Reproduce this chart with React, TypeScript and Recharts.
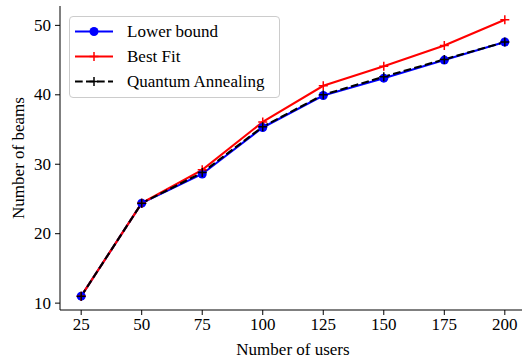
import { Legend, Line, LineChart, XAxis, YAxis } from "recharts";

const FONT = '"Liberation Serif", "Times New Roman", serif';
const FONT_SIZE = 17;

const USERS = [25, 50, 75, 100, 125, 150, 175, 200];
const LOWER_BOUND = [11, 24.4, 28.6, 35.3, 39.9, 42.4, 45.0, 47.6];
const BEST_FIT = [11, 24.4, 29.2, 36.1, 41.3, 44.1, 47.1, 50.8];
const QUANTUM = [11, 24.4, 28.8, 35.4, 40.0, 42.6, 45.1, 47.6];
const X_TICKS = [25, 50, 75, 100, 125, 150, 175, 200];
const Y_TICKS = [10, 20, 30, 40, 50];

const data = USERS.map((u, i) => ({
  users: u,
  lower: LOWER_BOUND[i],
  best: BEST_FIT[i],
  quantum: QUANTUM[i],
}));

// matplotlib-style 5% margins around the data
function padded(values: number[]): [number, number] {
  const lo = Math.min(...values);
  const hi = Math.max(...values);
  const m = (hi - lo) * 0.05;
  return [lo - m, hi + m];
}
const X_DOMAIN = padded(USERS);
const Y_DOMAIN = padded([...LOWER_BOUND, ...BEST_FIT, ...QUANTUM]);

const BLUE = "#0000ff";
const RED = "#ff0000";
const BLACK = "#000000";
const DASH = "7.7 3.3";

function XTick(props: any) {
  const { x, y, payload } = props;
  return (
    <text x={x} y={y + 13} textAnchor="middle" fill={BLACK} fontSize={FONT_SIZE} fontFamily={FONT}>
      {payload.value}
    </text>
  );
}

function YTick(props: any) {
  const { x, y, payload } = props;
  return (
    <text x={x} y={y} textAnchor="end" dominantBaseline="central" fill={BLACK} fontSize={FONT_SIZE} fontFamily={FONT}>
      {payload.value}
    </text>
  );
}

function plusDot(color: string) {
  return (props: any) => {
    const { cx, cy, index } = props;
    if (cx == null || cy == null) return <g key={index} />;
    return (
      <path
        key={index}
        d={`M${cx - 4.5},${cy}H${cx + 4.5}M${cx},${cy - 4.5}V${cy + 4.5}`}
        stroke={color}
        strokeWidth={1.5}
        fill="none"
      />
    );
  };
}

const LEGEND_ROWS = [
  { name: "Lower bound", color: BLUE, marker: "circle", dash: undefined },
  { name: "Best Fit", color: RED, marker: "plus", dash: undefined },
  { name: "Quantum Annealing", color: BLACK, marker: "plus", dash: DASH },
];

function LegendBox() {
  return (
    <div
      style={{
        position: "relative",
        boxSizing: "border-box",
        width: 211,
        height: 82,
        border: "1px solid #cccccc",
        borderRadius: 4,
        background: "rgba(255,255,255,0.8)",
        fontFamily: FONT,
        fontSize: FONT_SIZE,
        color: BLACK,
      }}
    >
      {LEGEND_ROWS.map((row, i) => (
        <div key={row.name} style={{ position: "absolute", left: 0, top: 2 + i * 25, height: 25, width: "100%" }}>
          <svg width={40} height={25} style={{ position: "absolute", left: 4, top: 0 }}>
            <line x1={1} y1={12.5} x2={39} y2={12.5} stroke={row.color} strokeWidth={2.1} strokeDasharray={row.dash} />
            {row.marker === "circle" ? (
              <circle cx={20} cy={12.5} r={4.5} fill={row.color} />
            ) : (
              <path d="M15.5,12.5H24.5M20,8V17" stroke={row.color} strokeWidth={1.5} />
            )}
          </svg>
          <span style={{ position: "absolute", left: 57, top: 0, lineHeight: "25px", whiteSpace: "nowrap" }}>
            {row.name}
          </span>
        </div>
      ))}
    </div>
  );
}

export default function App() {
  return (
    <div
      style={{
        position: "absolute",
        left: 0,
        top: 0,
        width: 522,
        height: 362,
        overflow: "hidden",
        background: "#ffffff",
        fontFamily: FONT,
      }}
    >
      <LineChart width={530} height={362} data={data} margin={{ top: 6, right: 4, bottom: 0, left: 0 }}>
        <XAxis
          dataKey="users"
          type="number"
          domain={X_DOMAIN}
          ticks={X_TICKS}
          allowDataOverflow
          height={52}
          tick={<XTick />}
          tickSize={5}
          stroke={BLACK}
          label={{
            content: ({ viewBox }: any) => (
              <text
                x={viewBox.x + viewBox.width / 2}
                y={355}
                textAnchor="middle"
                fill={BLACK}
                fontSize={FONT_SIZE}
                fontFamily={FONT}
              >
                Number of users
              </text>
            ),
          }}
        />
        <XAxis
          xAxisId="top"
          orientation="top"
          dataKey="users"
          type="number"
          domain={X_DOMAIN}
          allowDataOverflow
          height={0}
          tick={false}
          tickLine={false}
          stroke={BLACK}
        />
        <YAxis
          type="number"
          domain={Y_DOMAIN}
          ticks={Y_TICKS}
          allowDataOverflow
          width={60}
          tick={<YTick />}
          tickSize={5}
          tickMargin={4}
          stroke={BLACK}
          label={{
            content: ({ viewBox }: any) => {
              const cx = 18;
              const cy = viewBox.y + viewBox.height / 2;
              return (
                <text
                  x={cx}
                  y={cy}
                  transform={`rotate(-90 ${cx} ${cy})`}
                  textAnchor="middle"
                  dominantBaseline="central"
                  fill={BLACK}
                  fontSize={FONT_SIZE}
                  fontFamily={FONT}
                >
                  Number of beams
                </text>
              );
            },
          }}
        />
        <Legend
          layout="vertical"
          align="center"
          verticalAlign="middle"
          wrapperStyle={{ left: 69, top: 16 }}
          content={() => <LegendBox />}
        />
        <Line
          dataKey="lower"
          name="Lower bound"
          stroke={BLUE}
          strokeWidth={2.1}
          dot={{ r: 4.5, fill: BLUE, stroke: BLUE, strokeWidth: 0 }}
          activeDot={false}
          isAnimationActive={false}
        />
        <Line
          dataKey="best"
          name="Best Fit"
          stroke={RED}
          strokeWidth={2.1}
          dot={plusDot(RED)}
          activeDot={false}
          isAnimationActive={false}
        />
        <Line
          dataKey="quantum"
          name="Quantum Annealing"
          stroke={BLACK}
          strokeWidth={2.1}
          strokeDasharray={DASH}
          dot={plusDot(BLACK)}
          activeDot={false}
          isAnimationActive={false}
        />
      </LineChart>
    </div>
  );
}
